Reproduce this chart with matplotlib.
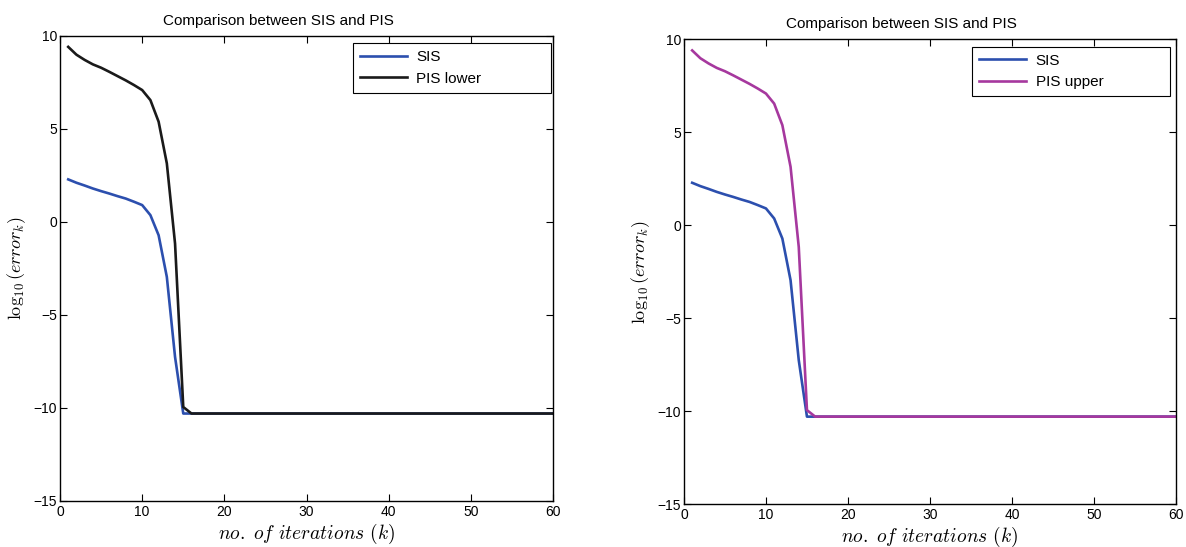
import numpy as np
import matplotlib
matplotlib.use("Agg")
from matplotlib import pyplot as plt

plt.rcParams['font.family'] = ['Liberation Sans', 'DejaVu Sans']
plt.rcParams['mathtext.fontset'] = 'cm'

# iteration numbers
k = list(range(1, 61))

# log10 error of SIS (flat after convergence)
sis = [2.28, 2.1, 1.95, 1.79, 1.65, 1.52, 1.38, 1.25, 1.08, 0.9,
       0.36, -0.72, -2.96, -7.26, -10.3] + [-10.3] * 45

# log10 error of PIS (lower and upper bounds coincide)
pis_lower = [9.4, 8.98, 8.7, 8.46, 8.28, 8.06, 7.83, 7.6, 7.35, 7.08,
             6.54, 5.38, 3.14, -1.17, -9.95, -10.3] + [-10.3] * 44
pis_upper = [9.4, 8.98, 8.7, 8.46, 8.28, 8.06, 7.83, 7.6, 7.35, 7.08,
             6.54, 5.38, 3.14, -1.17, -9.95, -10.3] + [-10.3] * 44

blue = '#2c4fae'
black = '#1a1a1a'
purple = '#a6389e'

fig = plt.figure(figsize=(11.86, 5.47), dpi=100)
ax1 = fig.add_axes([0.0506, 0.0841, 0.4157, 0.8506])
ax2 = fig.add_axes([0.5767, 0.0786, 0.4148, 0.8496])

panels = [(ax1, pis_lower, black, 'PIS lower', (0.594, 0.0, 0.402, 0.984)),
          (ax2, pis_upper, purple, 'PIS upper', (0.586, 0.0, 0.402, 0.984))]

for ax, pis, col, name, box in panels:
    ax.plot(k, sis, color=blue, lw=1.9, label='SIS')
    ax.plot(k, pis, color=col, lw=1.9, label=name)
    ax.set_xlim(0, 60)
    ax.set_ylim(-15, 10)
    ax.set_xticks([0, 10, 20, 30, 40, 50, 60])
    ax.set_yticks([-15, -10, -5, 0, 5, 10])
    ax.tick_params(direction='in', top=True, right=True, labelsize=10,
                   length=5, width=0.8, pad=3)
    ax.tick_params(axis='y', pad=2)
    for s in ax.spines.values():
        s.set_linewidth(1.0)
    ax.set_title('Comparison between SIS and PIS', fontsize=11, pad=8, x=0.443)
    ax.set_xlabel(r'$no.\ of\ iterations\ (k)$', fontsize=14, labelpad=2)
    ax.set_ylabel(r'$\log_{10}(error_k)$', fontsize=13, labelpad=4)
    leg = ax.legend(loc='upper left', bbox_to_anchor=box, mode='expand',
                    borderaxespad=0, fontsize=11, fancybox=False,
                    framealpha=1, edgecolor='black', borderpad=0.45,
                    handlelength=3.1, handletextpad=0.6, labelspacing=0.5)
    leg.get_frame().set_linewidth(0.8)

fig.savefig('out.png', dpi=100)
